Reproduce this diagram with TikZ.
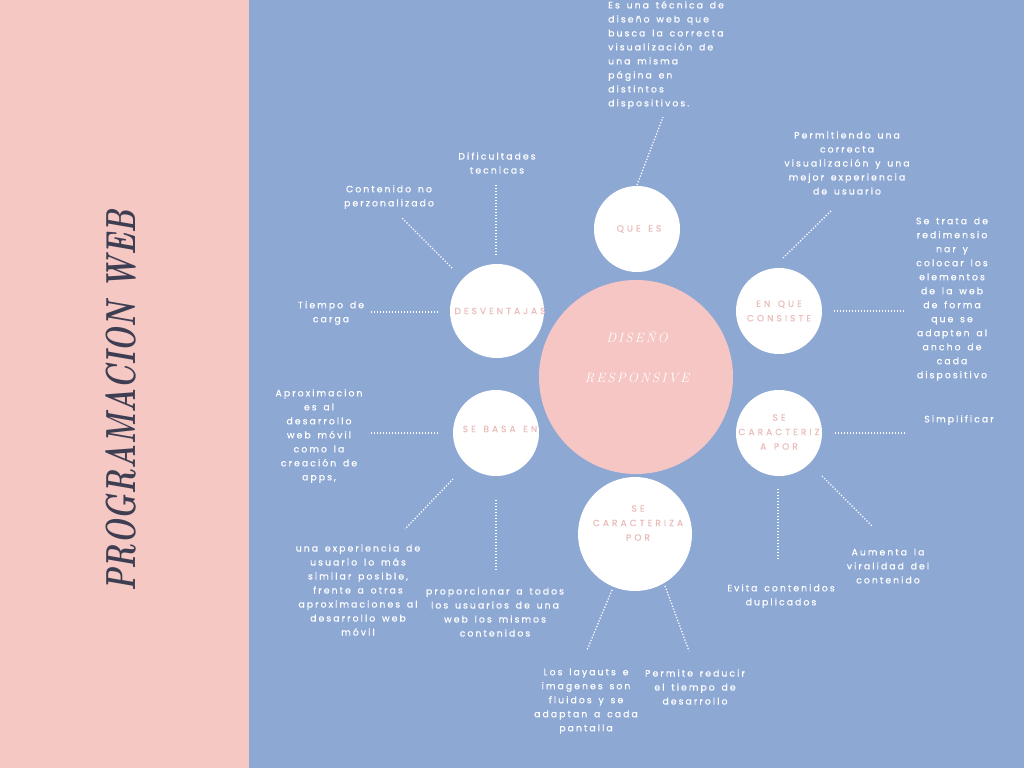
\documentclass[tikz,border=0pt]{standalone}
\usepackage{fontspec}
\newfontfamily\bodyfont[LetterSpace=22,WordSpace=1.5,FakeBold=0.6]{Poppins}
\newfontfamily\capfont[LetterSpace=34,WordSpace=1.4,FakeBold=0.4]{Poppins}
\newfontfamily\handfont[LetterSpace=15]{Latin Modern Roman}
\newfontfamily\titlefont{Latin Modern Roman}
\definecolor{sidepink}{RGB}{245,200,196}
\definecolor{paneblue}{RGB}{142,168,212}
\definecolor{hubpink}{RGB}{245,198,195}
\definecolor{labelpink}{RGB}{234,188,186}
\definecolor{titleink}{RGB}{62,62,82}
\tikzset{
  bubble/.style={circle, fill=white, draw=none, inner sep=0pt},
  bubbletext/.style={text=labelpink, align=center, inner sep=0pt,
    font=\capfont\fontsize{9}{14.5}\selectfont},
  note/.style={text=white, align=center, inner sep=0pt,
    font=\bodyfont\fontsize{9.3}{14}\selectfont},
  leader/.style={white, line width=1.3pt, dash pattern=on 1.2pt off 1.8pt}
}
\begin{document}
\begin{tikzpicture}[x=1pt,y=-1pt]
% background panels
\fill[sidepink] (0,0) rectangle (249,768);
\fill[paneblue] (249,0) rectangle (1024,768);
\useasboundingbox (0,0) rectangle (1024,768);

% vertical title
\node[rotate=90, text=titleink, inner sep=0pt,
  font=\titlefont\bfseries\itshape\fontsize{42}{42}\selectfont] (title) at (121,401)
  {\scalebox{0.69}[1]{PROGRAMACION WEB}};

% central hub
\node[circle, fill=hubpink, minimum size=194pt, inner sep=0pt] (hub) at (636,377) {};
\node[text=white, inner sep=0pt, font=\handfont\itshape\fontsize{13.5}{13.5}\selectfont] (hubA) at (637,337) {DISEÑO};
\node[text=white, inner sep=0pt, font=\handfont\itshape\fontsize{13.5}{13.5}\selectfont] (hubB) at (637,378) {RESPONSIVE};

% satellite circles
\node[bubble, minimum size=86pt] (que) at (637,229) {};
\node[bubble, minimum size=94pt] (desv) at (497,311) {};
\node[bubble, minimum size=86pt] (cons) at (779,311) {};
\node[bubble, minimum size=86pt] (carR) at (779,433) {};
\node[bubble, minimum size=86pt] (basa) at (496,433) {};
\node[bubble, minimum size=114pt] (carB) at (635,534) {};

\node[bubbletext] (queT) at (639,229) {QUE ES};
\node[bubbletext] (desvT) at (500,311) {DESVENTAJAS};
\node[bubbletext] (consT) at (779,311) {EN QUE\\CONSISTE};
\node[bubbletext] (carRT) at (779,432) {SE\\CARACTERIZ\\A POR};
\node[bubbletext] (basaT) at (500,429) {SE BASA EN};
\node[bubbletext] (carBT) at (638,523) {SE\\CARACTERIZA\\POR};

% notes
\node[note, anchor=west, align=left] (nQue) at (608,55) {Es una técnica de\\diseño web que\\busca la correcta\\visualización de\\una misma\\página en\\distintos\\dispositivos.};
\node[note] (nDif) at (497,163) {Dificultades\\tecnicas};
\node[note] (nCont) at (389,197) {Contenido no\\perzonalizado};
\node[note] (nTiem) at (331,313) {Tiempo de\\carga};
\node[note] (nPerm) at (847,163) {Permitiendo una\\correcta\\visualización y una\\mejor experiencia\\de usuario};
\node[note] (nTrata) at (952,299) {Se trata de\\redimensio\\nar y\\colocar los\\elementos\\de la web\\de forma\\que se\\adapten al\\ancho de\\cada\\dispositivo};
\node[note] (nSimp) at (959,420) {Simplificar};
\node[note] (nAum) at (888,566) {Aumenta la\\viralidad del\\contenido};
\node[note] (nEvit) at (781,596) {Evita contenidos\\duplicados};
\node[note] (nLay) at (586,701) {Los layauts e\\imagenes son\\fluidos y se\\adaptan a cada\\pantalla};
\node[note] (nRed) at (695,687) {Permite reducir\\el tiempo de\\desarrollo};
\node[note] (nProp) at (495,612) {proporcionar a todos\\los usuarios de una\\web los mismos\\contenidos};
\node[note] (nExp) at (358,590) {una experiencia de\\usuario lo más\\similar posible,\\frente a otras\\aproximaciones al\\desarrollo web\\móvil};
\node[note] (nApro) at (319,436) {Aproximacion\\es al\\desarrollo\\web móvil\\como la\\creación de\\apps,};

% leader end points
\coordinate (lQue1) at (637,185);  \coordinate (lQue2) at (663,117);
\coordinate (lDif1) at (496,255);  \coordinate (lDif2) at (496,185);
\coordinate (lCon1) at (452,268);  \coordinate (lCon2) at (402,218);
\coordinate (lTie1) at (438,312);  \coordinate (lTie2) at (370,312);
\coordinate (lPer1) at (783,258);  \coordinate (lPer2) at (832,210);
\coordinate (lTra1) at (834,311);  \coordinate (lTra2) at (904,311);
\coordinate (lSim1) at (835,433);  \coordinate (lSim2) at (905,433);
\coordinate (lAum1) at (822,476);  \coordinate (lAum2) at (872,526);
\coordinate (lEvi1) at (778,489);  \coordinate (lEvi2) at (778,560);
\coordinate (lApr1) at (438,433);  \coordinate (lApr2) at (370,433);
\coordinate (lExp1) at (453,479);  \coordinate (lExp2) at (405,529);
\coordinate (lPro1) at (496,500);  \coordinate (lPro2) at (496,570);
\coordinate (lLay1) at (612,590);  \coordinate (lLay2) at (587,650);
\coordinate (lRed1) at (665,586);  \coordinate (lRed2) at (689,651);

% dotted leaders
\foreach \a/\b in {lQue1/lQue2, lDif1/lDif2, lCon1/lCon2, lTie1/lTie2,
  lPer1/lPer2, lTra1/lTra2, lSim1/lSim2, lAum1/lAum2, lEvi1/lEvi2,
  lApr1/lApr2, lExp1/lExp2, lPro1/lPro2, lLay1/lLay2, lRed1/lRed2}
  \draw[leader] (\a) -- (\b);
\end{tikzpicture}
\end{document}
